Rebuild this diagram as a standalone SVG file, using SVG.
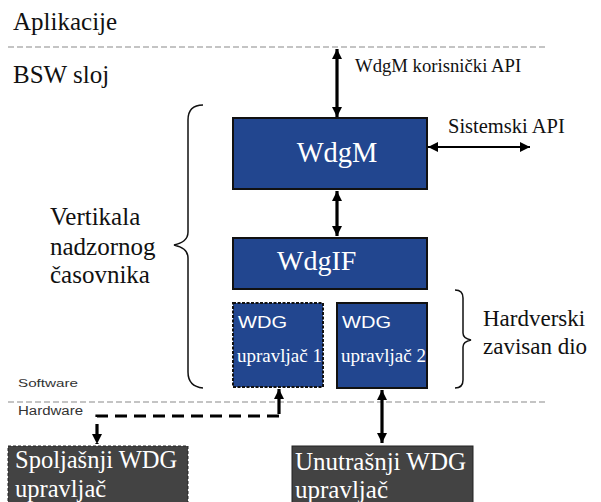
<svg xmlns="http://www.w3.org/2000/svg" width="601" height="502" viewBox="0 0 601 502">
  <style>
    text.serif { font-family: 'Liberation Serif', 'Times New Roman', Times, serif; }
    text.sans { font-family: 'Liberation Sans', Arial, Helvetica, sans-serif; }
    .lbl { fill: #111; }
    .wht { fill: #ffffff; }
    .blue { fill: #22468f; stroke: #111; stroke-width: 2; }
    .grey { fill: #434343; stroke: #222; stroke-width: 1; }
    .sep { stroke: #8a8a8a; stroke-width: 1.2; stroke-dasharray: 6 3; fill: none; }
    .conn { stroke: #000; stroke-width: 3.2; fill: none; }
    .thin { stroke: #000; stroke-width: 1.8; fill: none; }
    .brace { stroke: #111; stroke-width: 1.5; fill: none; }
  </style>
  <defs>
    <marker id="head" markerUnits="userSpaceOnUse" markerWidth="12" markerHeight="12" refX="10" refY="6" orient="auto-start-reverse">
      <path d="M0,1 L10,6 L0,11 Z" fill="#000"/>
    </marker>
  </defs>

  <!-- layer separators -->
  <line class="sep" x1="8" y1="47" x2="546" y2="47"/>
  <line class="sep" x1="8" y1="402" x2="546" y2="402"/>

  <!-- layer labels -->
  <text class="serif lbl" font-family="Liberation Serif, serif" x="13" y="30" font-size="25">Aplikacije</text>
  <text class="serif lbl" font-family="Liberation Serif, serif" x="13" y="83" font-size="25">BSW sloj</text>
  <text class="sans" font-family="Liberation Sans, sans-serif" x="18" y="387" font-size="11" fill="#333" textLength="60" lengthAdjust="spacingAndGlyphs">Software</text>
  <text class="sans" font-family="Liberation Sans, sans-serif" x="18" y="415" font-size="12" fill="#333" textLength="65" lengthAdjust="spacingAndGlyphs">Hardware</text>

  <!-- braces and their captions -->
  <g id="vertikala">
    <path class="brace" d="M203,105 C193,105 188,110 188,120 L188,232 C188,240 182,243 174,245 C182,247 188,250 188,258 L188,372 C188,382 193,387 203,388"/>
    <text class="serif lbl" font-family="Liberation Serif, serif" font-size="25">
      <tspan x="50" y="225">Vertikala</tspan>
      <tspan x="50" y="255">nadzornog</tspan>
      <tspan x="50" y="283">časovnika</tspan>
    </text>
  </g>
  <g id="hardverski">
    <path class="brace" d="M455,290 C461,290 463,293 463,298 L463,333 C463,337 466,339 471,340 C466,341 463,343 463,347 L463,380 C463,385 461,388 455,388"/>
    <text class="serif lbl" font-family="Liberation Serif, serif" font-size="23">
      <tspan x="483" y="326">Hardverski</tspan>
      <tspan x="483" y="354">zavisan dio</tspan>
    </text>
  </g>

  <!-- modules -->
  <g id="wdgm">
    <rect class="blue" x="233" y="118" width="194" height="71"/>
    <text class="serif wht" font-family="Liberation Serif, serif" x="337" y="162" font-size="28.5" text-anchor="middle">WdgM</text>
  </g>
  <g id="wdgif">
    <rect class="blue" x="233" y="238" width="194" height="51"/>
    <text class="serif wht" font-family="Liberation Serif, serif" x="277" y="270" font-size="28">WdgIF</text>
  </g>
  <g id="wdg1">
    <rect x="233" y="303" width="90" height="84" fill="#22468f" stroke="#111" stroke-width="2" stroke-dasharray="3 1.5"/>
    <text class="sans wht" font-family="Liberation Sans, sans-serif" x="238" y="328" font-size="17" textLength="49" lengthAdjust="spacingAndGlyphs">WDG</text>
    <text class="serif wht" font-family="Liberation Serif, serif" x="237" y="362" font-size="19">upravljač 1</text>
  </g>
  <g id="wdg2">
    <rect x="337" y="303" width="90" height="85" fill="#22468f" stroke="#111" stroke-width="2"/>
    <text class="sans wht" font-family="Liberation Sans, sans-serif" x="342" y="328" font-size="17" textLength="49" lengthAdjust="spacingAndGlyphs">WDG</text>
    <text class="serif wht" font-family="Liberation Serif, serif" x="341" y="362" font-size="19">upravljač 2</text>
  </g>
  <g id="spoljasnji">
    <rect class="grey" x="8" y="446" width="180" height="60" stroke-dasharray="3 2"/>
    <text class="serif wht" font-family="Liberation Serif, serif" font-size="24.5">
      <tspan x="15" y="468">Spoljašnji WDG</tspan>
      <tspan x="15" y="497">upravljač</tspan>
    </text>
  </g>
  <g id="unutrasnji">
    <rect class="grey" x="292" y="446" width="181" height="60"/>
    <text class="serif wht" font-family="Liberation Serif, serif" font-size="25">
      <tspan x="295" y="470">Unutrašnji WDG</tspan>
      <tspan x="295" y="498">upravljač</tspan>
    </text>
  </g>

  <!-- connectors -->
  <g id="connectors">
    <line class="conn" x1="337" y1="49" x2="337" y2="117" marker-start="url(#head)" marker-end="url(#head)"/>
    <line class="thin" x1="428" y1="147" x2="530" y2="147" marker-start="url(#head)" marker-end="url(#head)"/>
    <line class="conn" x1="337" y1="191" x2="337" y2="236" marker-start="url(#head)" marker-end="url(#head)"/>
    <line class="conn" x1="382" y1="390" x2="382" y2="443" marker-start="url(#head)" marker-end="url(#head)"/>
    <line class="conn" x1="279" y1="414" x2="279" y2="389" marker-end="url(#head)"/>
    <path class="conn" d="M279,416 L97,416 L97,444" stroke-dasharray="12 7" stroke-width="2.8" marker-end="url(#head)"/>
  </g>

  <!-- API captions -->
  <text class="serif lbl" font-family="Liberation Serif, serif" x="355" y="72" font-size="18.7">WdgM korisnički API</text>
  <text class="serif lbl" font-family="Liberation Serif, serif" x="448" y="133" font-size="20.5">Sistemski API</text>
</svg>
